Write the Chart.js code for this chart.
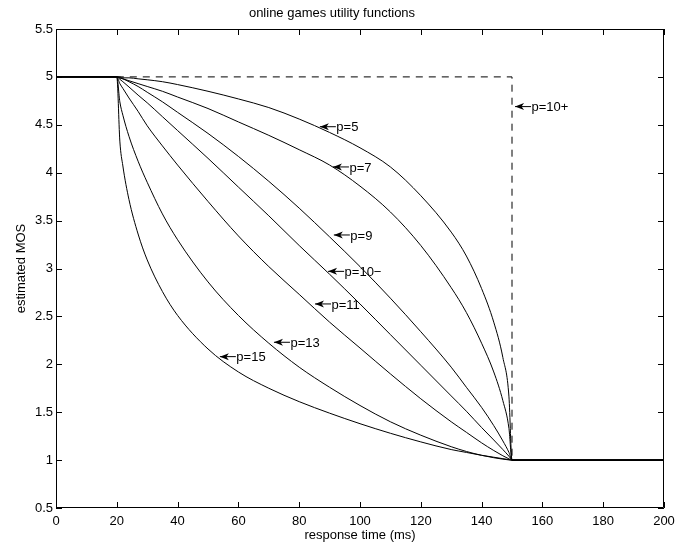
<!DOCTYPE html>
<html>
<head>
<meta charset="utf-8">
<script src="https://cdn.jsdelivr.net/npm/chart.js@4.4.1/dist/chart.umd.min.js"></script>
<style>
  html, body { margin: 0; padding: 0; background: #fff; }
</style>
</head>
<body>
<canvas id="chart" width="694" height="549"></canvas>
<script>
// response time samples (ms) shared by all utility curves
const responseTimes = [20, 21, 22, 24, 27, 30, 35, 40, 50, 60, 70, 80, 90, 100, 110, 120, 130, 135, 140, 144, 147, 149, 150];

// estimated MOS per curve
const mosP5   = [5, 5.00, 4.99, 4.99, 4.98, 4.97, 4.95, 4.92, 4.85, 4.77, 4.68, 4.56, 4.42, 4.26, 4.06, 3.76, 3.38, 3.13, 2.79, 2.44, 2.07, 1.66, 1];
const mosP7   = [5, 4.99, 4.98, 4.96, 4.93, 4.90, 4.85, 4.79, 4.67, 4.53, 4.39, 4.24, 4.08, 3.86, 3.59, 3.24, 2.80, 2.54, 2.22, 1.92, 1.62, 1.33, 1];
const mosP9   = [5, 4.99, 4.98, 4.95, 4.90, 4.84, 4.74, 4.63, 4.41, 4.17, 3.91, 3.63, 3.33, 3.02, 2.69, 2.34, 1.97, 1.76, 1.55, 1.36, 1.20, 1.08, 1];
const mosP10m = [5, 4.975, 4.95, 4.895, 4.81, 4.73, 4.585, 4.44, 4.15, 3.85, 3.55, 3.24, 2.94, 2.63, 2.31, 1.99, 1.67, 1.51, 1.34, 1.21, 1.11, 1.04, 1];
const mosP11  = [5, 4.93, 4.88, 4.78, 4.64, 4.49, 4.28, 4.08, 3.70, 3.34, 3.02, 2.73, 2.44, 2.17, 1.90, 1.64, 1.40, 1.29, 1.18, 1.10, 1.045, 1.013, 1];
const mosP13  = [5, 4.74, 4.60, 4.38, 4.12, 3.90, 3.57, 3.30, 2.86, 2.51, 2.22, 1.97, 1.76, 1.57, 1.40, 1.26, 1.14, 1.09, 1.05, 1.025, 1.01, 1.002, 1];
const mosP15  = [5, 4.33, 4.07, 3.72, 3.36, 3.09, 2.76, 2.51, 2.16, 1.92, 1.75, 1.61, 1.49, 1.38, 1.28, 1.19, 1.11, 1.08, 1.05, 1.03, 1.015, 1.005, 1];

// flat parts before 20 ms and after 150 ms
const startTime = 0, startMos = 5;
const endTime = 200, endMos = 1;

// p=10+ step curve
const stepTimes = [20, 150, 150];
const stepMos   = [5, 5, 1];

// curve annotations (arrow tip in data units)
const labelTexts = ['p=5', 'p=7', 'p=9', 'p=10\u2212', 'p=11', 'p=13', 'p=15', 'p=10+'];
const labelTimes = [86.8, 91.1, 91.4, 89.5, 85.2, 71.7, 53.9, 151];
const labelMos   = [4.48, 4.06, 3.35, 2.97, 2.63, 2.23, 2.08, 4.69];

const xTicks = [0, 20, 40, 60, 80, 100, 120, 140, 160, 180, 200];
const yTicks = [0.5, 1, 1.5, 2, 2.5, 3, 3.5, 4, 4.5, 5, 5.5];

Chart.defaults.font.family = '"Liberation Sans", Arial, Helvetica, sans-serif';
Chart.defaults.font.size = 13;
Chart.defaults.color = '#000';

function curve(ys) {
  const pts = [{x: startTime, y: startMos}];
  responseTimes.forEach((t, i) => pts.push({x: t, y: ys[i]}));
  pts.push({x: endTime, y: endMos});
  return {
    data: pts,
    borderColor: '#000',
    borderWidth: 1,
    pointRadius: 0,
    fill: false,
    cubicInterpolationMode: 'monotone'
  };
}

const datasets = [mosP5, mosP7, mosP9, mosP10m, mosP11, mosP13, mosP15].map(curve);
datasets.push({
  data: stepTimes.map((t, i) => ({x: t, y: stepMos[i]})),
  borderColor: '#000',
  borderWidth: 1,
  borderDash: [7, 6],
  pointRadius: 0,
  fill: false,
  tension: 0
});

// box, inward ticks and arrow labels (MATLAB look)
const frame = {
  id: 'frame',
  afterDatasetsDraw(chart) {
    const {ctx, chartArea: a, scales: {x, y}} = chart;
    const tl = 6;
    ctx.save();
    ctx.strokeStyle = '#000';
    ctx.fillStyle = '#000';
    ctx.lineWidth = 1;
    ctx.beginPath();
    ctx.rect(a.left + 0.5, a.top + 0.5, a.right - a.left - 1, a.bottom - a.top - 1);
    xTicks.forEach(v => {
      const px = Math.round(x.getPixelForValue(v)) + 0.5;
      ctx.moveTo(px, a.bottom); ctx.lineTo(px, a.bottom - tl);
      ctx.moveTo(px, a.top); ctx.lineTo(px, a.top + tl);
    });
    yTicks.forEach(v => {
      const py = Math.round(y.getPixelForValue(v)) + 0.5;
      ctx.moveTo(a.left, py); ctx.lineTo(a.left + tl, py);
      ctx.moveTo(a.right, py); ctx.lineTo(a.right - tl, py);
    });
    ctx.stroke();

    ctx.font = '13px "Liberation Sans", Arial, sans-serif';
    ctx.textBaseline = 'alphabetic';
    ctx.textAlign = 'left';
    labelTexts.forEach((txt, i) => {
      const px = x.getPixelForValue(labelTimes[i]);
      const py = y.getPixelForValue(labelMos[i]);
      ctx.beginPath();
      ctx.moveTo(px, py);
      ctx.lineTo(px + 16, py);
      ctx.stroke();
      ctx.beginPath();
      ctx.moveTo(px, py);
      ctx.lineTo(px + 9, py - 3.5);
      ctx.lineTo(px + 6.5, py);
      ctx.lineTo(px + 9, py + 3.5);
      ctx.closePath();
      ctx.fill();
      ctx.fillText(txt, px + 16.5, py + 4.6);
    });
    ctx.restore();
  }
};

new Chart(document.getElementById('chart'), {
  type: 'line',
  data: { datasets },
  options: {
    responsive: false,
    animation: false,
    layout: { padding: { left: 0, right: 30, top: 0, bottom: 0 } },
    scales: {
      x: {
        type: 'linear',
        min: 0,
        max: 200,
        grid: { display: false, drawTicks: false },
        border: { display: false },
        ticks: { stepSize: 20, padding: 6, maxRotation: 0, autoSkip: false, callback: v => String(v) },
        title: { display: true, text: 'response time (ms)', padding: { top: 0, bottom: 6 } },
        afterFit: s => { s.height = 41; }
      },
      y: {
        type: 'linear',
        min: 0.5,
        max: 5.5,
        grid: { display: false, drawTicks: false },
        border: { display: false },
        ticks: { stepSize: 0.5, padding: 3, autoSkip: false, callback: v => String(v) },
        title: { display: true, text: 'estimated MOS', padding: { top: 14, bottom: 0 } },
        afterFit: s => { s.width = 56; }
      }
    },
    plugins: {
      legend: { display: false },
      tooltip: { enabled: false },
      title: {
        display: true,
        text: 'online games utility functions',
        font: { size: 13, weight: 'normal' },
        padding: { top: 6, bottom: 7.4 }
      }
    }
  },
  plugins: [frame]
});
</script>
</body>
</html>
